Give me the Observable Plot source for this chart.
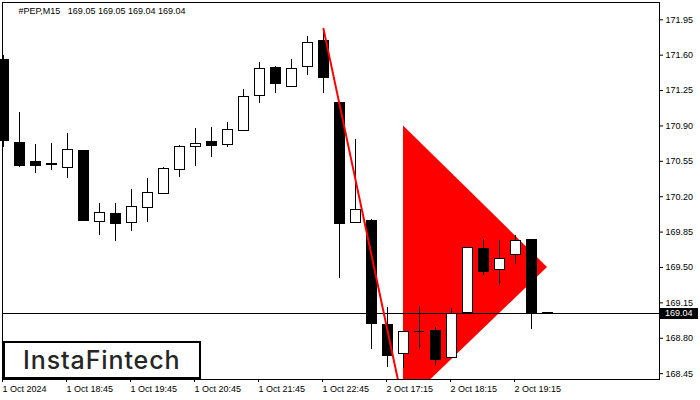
<!DOCTYPE html>
<html>
<head>
<meta charset="utf-8">
<script src="https://cdn.jsdelivr.net/npm/d3@7"></script>
<script src="https://cdn.jsdelivr.net/npm/@observablehq/plot@0.6"></script>
<style>
  html, body { margin: 0; padding: 0; background: #fff; }
  #wrap { position: relative; width: 700px; height: 400px; overflow: hidden; font-family: "Liberation Sans", Arial, sans-serif; }
  #wrap svg { display: block; }
  #logo { position: absolute; left: 3px; top: 341px; width: 198px; height: 38px; box-sizing: border-box;
          border: 2px solid #000; background: #fff; font-family: Inter, "Open Sans", sans-serif; font-weight: 500;
          font-size: 25px; letter-spacing: 0.9px; color: #262626; line-height: 34px; padding-left: 18px; white-space: nowrap; }
  #price { position: absolute; left: 660px; width: 38px; height: 11px; background: #000; color: #fff;
           font-size: 9px; line-height: 11px; padding-left: 5px; box-sizing: border-box; }
</style>
</head>
<body>
<div id="wrap"></div>
<script>
const symbol = "#PEP,M15";
const opens  = [171.55,170.73,170.54,170.52,170.48,170.65,169.95,170.03,169.94,170.09,170.23,170.46,170.69,170.74,170.71,170.85,171.20,171.47,171.29,171.48,171.74,171.13,169.94,169.96,168.93,168.64,168.87,168.87,168.60,169.05,169.68,169.48,169.62,169.77,169.05];
const highs  = [171.60,171.03,170.72,170.73,170.83,170.65,170.13,170.13,170.27,170.38,170.49,170.71,170.87,170.88,170.93,171.26,171.53,171.49,171.56,171.78,171.86,171.13,170.77,169.97,169.10,168.87,169.11,168.91,169.09,169.69,169.78,169.77,169.82,169.78,169.05];
const lows   = [170.69,170.49,170.43,170.46,170.38,169.95,169.82,169.76,169.86,169.94,170.22,170.39,170.50,170.59,170.69,170.85,171.12,171.22,171.28,171.40,171.22,169.39,169.94,168.69,168.51,168.50,168.69,168.53,168.60,169.05,169.42,169.32,169.53,168.89,169.04];
const closes = [170.75,170.50,170.50,170.51,170.66,169.96,170.04,169.93,170.10,170.24,170.47,170.69,170.72,170.70,170.86,171.19,171.46,171.31,171.46,171.72,171.37,169.93,170.07,168.94,168.62,168.86,168.87,168.58,169.04,169.69,169.46,169.58,169.76,169.04,169.04];

const timeTickIndex  = [0, 4, 8, 12, 16, 20, 24, 28, 32];
const timeTickLabels = ["1 Oct 2024", "1 Oct 18:45", "1 Oct 19:45", "1 Oct 20:45", "1 Oct 21:45", "1 Oct 22:45", "2 Oct 17:15", "2 Oct 18:15", "2 Oct 19:15"];
const priceTicks = [168.45, 168.80, 169.15, 169.50, 169.85, 170.20, 170.55, 170.90, 171.25, 171.60, 171.95];

// pennant pattern: pole line and flag triangle (bar index, price)
const poleIndex = [20, 25];
const polePrice = [171.86, 168.13];
const flagIndex = [25, 34];
const flagLow   = [168.13, 169.50];
const flagHigh  = [170.90, 169.50];

const currentPrice = 169.04;

const candles = opens.map((o, i) => ({i, o, h: highs[i], l: lows[i], c: closes[i]}));
const bulls = candles.filter(d => d.c > d.o);
const bears = candles.filter(d => d.c < d.o);
const dojis = candles.filter(d => d.c === d.o);
const pole = poleIndex.map((x, k) => ({x, y: polePrice[k]}));
const flag = flagIndex.map((x, k) => ({x, lo: flagLow[k], hi: flagHigh[k]}));
const last = candles[candles.length - 1];
const title = `${symbol}   ${last.o.toFixed(2)} ${last.h.toFixed(2)} ${last.l.toFixed(2)} ${last.c.toFixed(2)}`;

const hw = 0.3125;

const chart = Plot.plot({
  width: 700,
  height: 400,
  marginLeft: 2,
  marginTop: 2,
  marginRight: 41,
  marginBottom: 21,
  style: {fontFamily: "Liberation Sans, Arial, sans-serif", fontSize: "9px", background: "#fff", color: "#000"},
  x: {type: "linear", domain: [-0.0625, 41], label: null, axis: null},
  y: {type: "linear", domain: [168.392, 172.121], label: null, axis: null},
  marks: [
    Plot.areaY(flag, {x: "x", y1: "lo", y2: "hi", fill: "#ff0000", clip: true}),
    Plot.ruleY([currentPrice], {stroke: "#000", strokeWidth: 1, shapeRendering: "crispEdges"}),
    Plot.ruleX(candles, {x: "i", y1: "l", y2: "h", stroke: "#000", strokeWidth: 1, shapeRendering: "crispEdges"}),
    Plot.rect(bulls, {x1: d => d.i - hw, x2: d => d.i + hw, y1: "o", y2: "c", fill: "#fff", stroke: "#000", strokeWidth: 1, shapeRendering: "crispEdges"}),
    Plot.rect(bears, {x1: d => d.i - hw, x2: d => d.i + hw, y1: "o", y2: "c", fill: "#000", stroke: "#000", strokeWidth: 1, shapeRendering: "crispEdges"}),
    Plot.ruleY(dojis, {y: "o", x1: d => d.i - hw, x2: d => d.i + hw, stroke: "#000", strokeWidth: 1, shapeRendering: "crispEdges"}),
    Plot.line(pole, {x: "x", y: "y", stroke: "#ff0000", strokeWidth: 2, clip: true}),
    Plot.frame({stroke: "#000", shapeRendering: "crispEdges"}),
    Plot.axisY(priceTicks, {anchor: "right", tickSize: 3, tickPadding: 3, tickFormat: d => d.toFixed(2), label: null, fill: "#000", stroke: "#000"}),
    Plot.axisX(timeTickIndex, {anchor: "bottom", tickSize: 3, tickPadding: 3, textAnchor: "start", dx: -1,
      tickFormat: i => timeTickLabels[timeTickIndex.indexOf(i)], label: null, fill: "#000", stroke: "#000"}),
    Plot.text([title], {frameAnchor: "top-left", dx: 16, dy: 5, text: d => d, fill: "#000", fontSize: 9})
  ]
});

const wrap = document.getElementById("wrap");
wrap.appendChild(chart);

const py = chart.scale("y").apply(currentPrice);
const price = document.createElement("div");
price.id = "price";
price.textContent = currentPrice.toFixed(2);
price.style.top = (py - 5) + "px";
wrap.appendChild(price);

const logo = document.createElement("div");
logo.id = "logo";
logo.textContent = "InstaFintech";
wrap.appendChild(logo);
</script>
</body>
</html>
